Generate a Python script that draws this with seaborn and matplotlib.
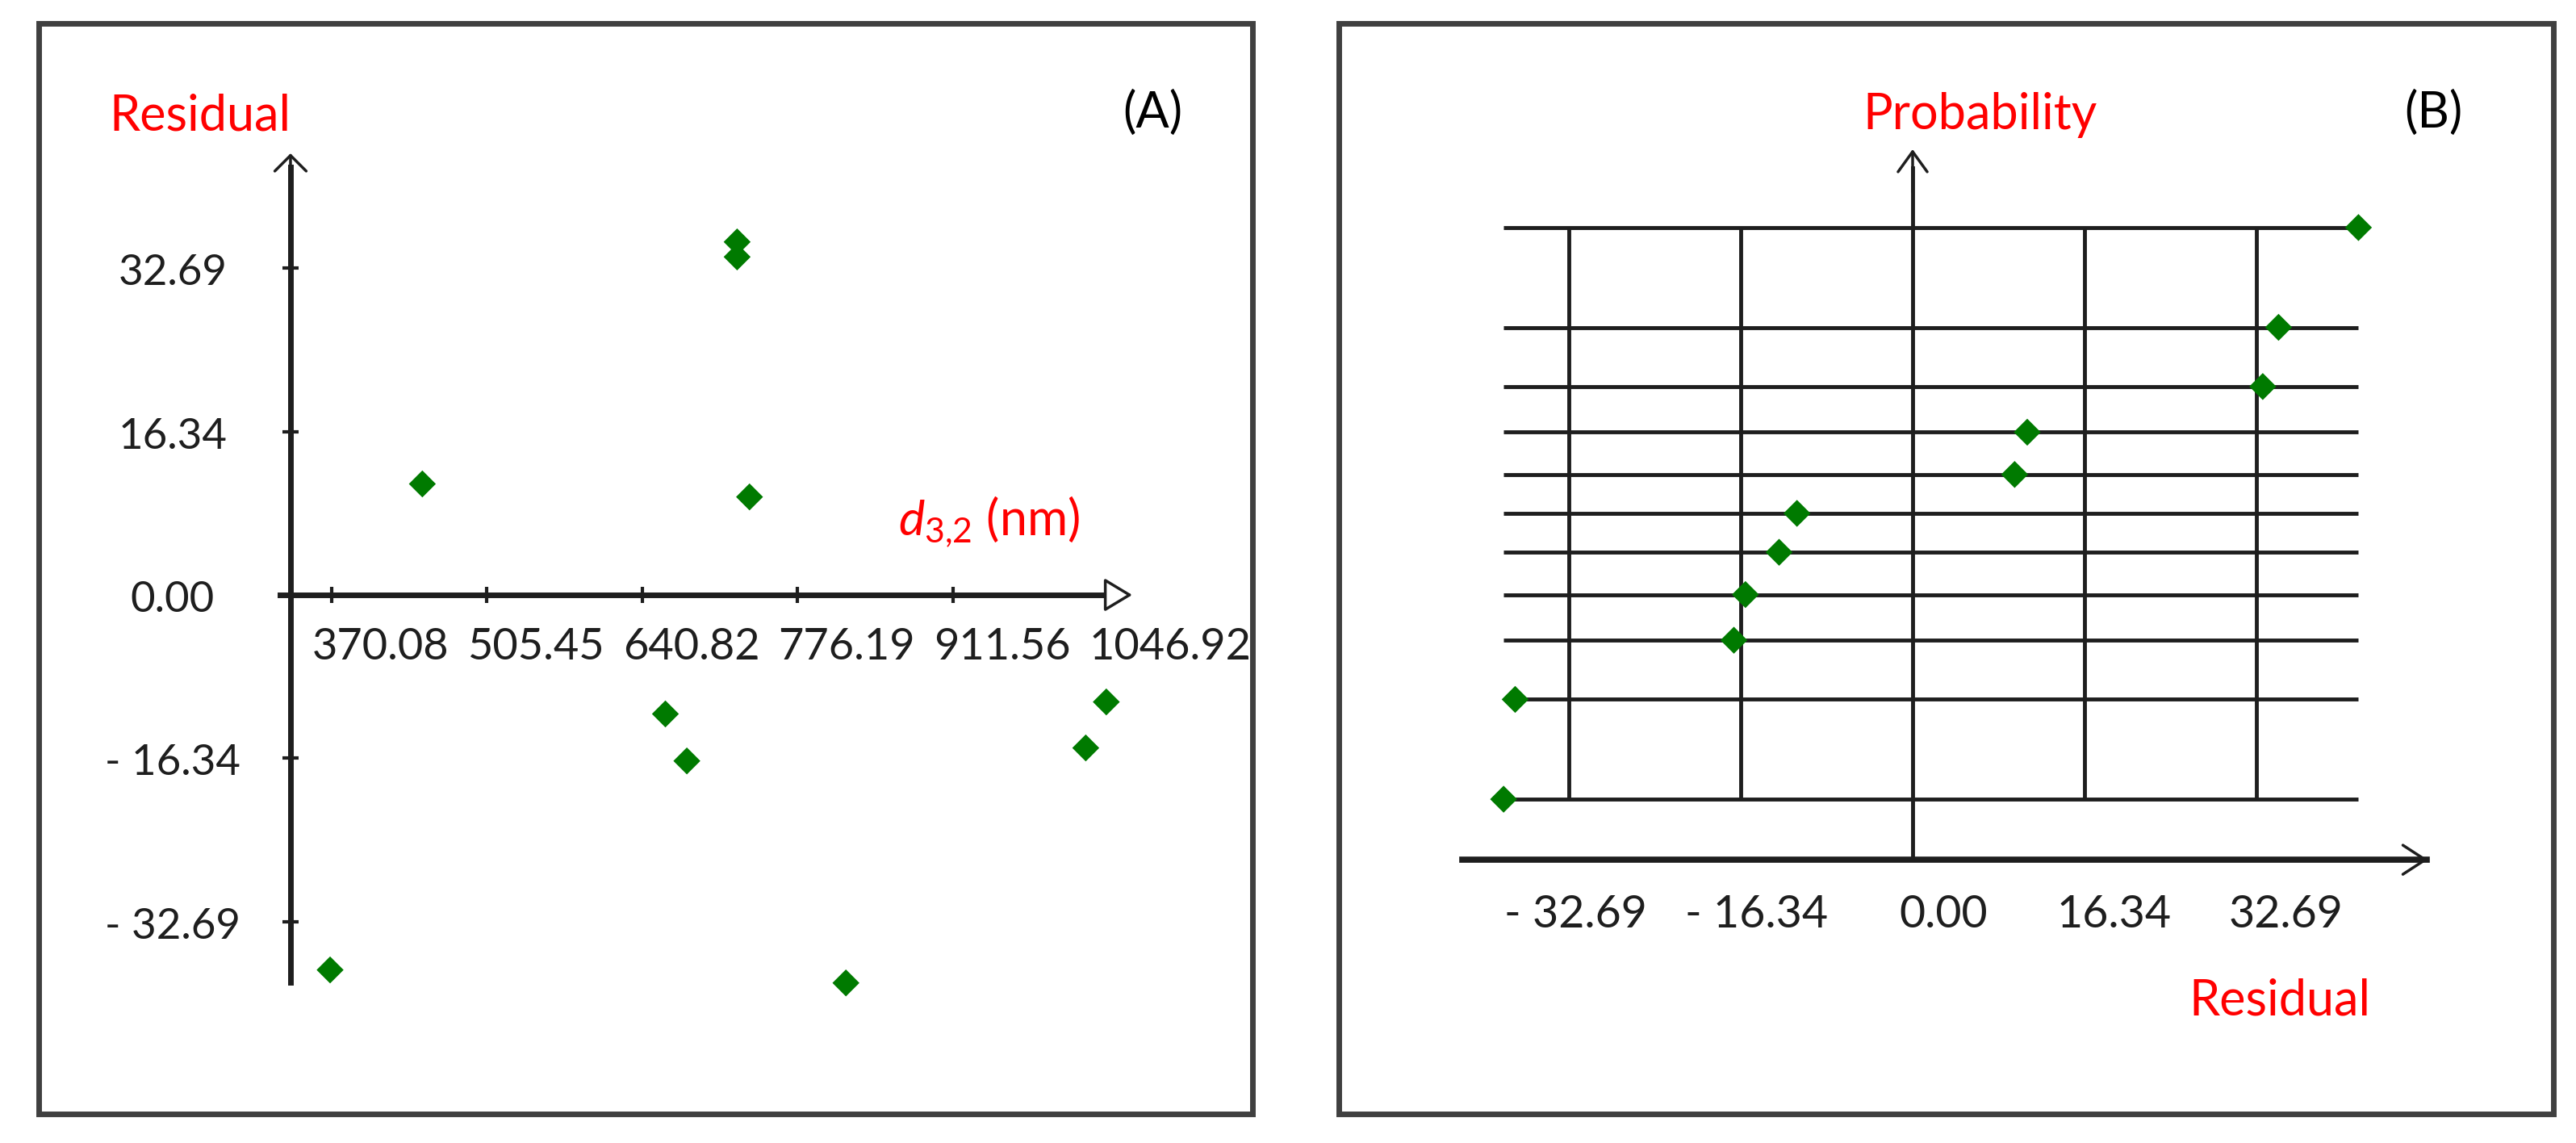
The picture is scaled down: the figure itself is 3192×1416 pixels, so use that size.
import matplotlib
matplotlib.use('Agg')
import matplotlib.pyplot as plt
import seaborn as sns
from matplotlib.transforms import ScaledTranslation
from matplotlib.patches import Rectangle

# ---------------- data ----------------
d32_nm = [368.7, 449.1, 723.4, 723.4, 734.2, 660.9, 679.6, 818.2, 1027.2, 1045.1]
residual_a = [-37.5, 11.1, 35.3, 33.8, 9.8, -11.9, -16.6, -38.8, -15.3, -10.7]

residual_b = [-38.9, -37.8, -17.0, -15.9, -12.7, -11.0, 9.7, 10.9, 33.3, 34.8, 42.4]
probability_b = [-1.69, -1.10, -0.75, -0.48, -0.23, 0.00, 0.23, 0.48, 0.75, 1.10, 1.69]

a_xticks = [370.08, 505.45, 640.82, 776.19, 911.56, 1046.92]
a_xticklabels = ['370.08', '505.45', '640.82', '776.19', '911.56', '1046.92']
a_yticks = [32.69, 16.34, 0.00, -16.34, -32.69]
a_yticklabels = ['32.69', '16.34', '0.00', '- 16.34', '- 32.69']
b_xticks = [-32.69, -16.34, 0.00, 16.34, 32.69]
b_xticklabels = ['- 32.69', '- 16.34', '0.00', '16.34', '32.69']

# ---------------- style ----------------
W, H, DPI = 3192, 1416, 100
sns.set_style('white')
plt.rcParams['font.family'] = ['Lato', 'DejaVu Sans']
plt.rcParams['mathtext.fontset'] = 'custom'
plt.rcParams['mathtext.it'] = 'Lato:italic'
plt.rcParams['mathtext.rm'] = 'Lato'

INK = '#1e1e1e'
FRAME = '#404040'
GREEN = '#007a00'
RED = '#ff0000'

fig = plt.figure(figsize=(W / DPI, H / DPI), dpi=DPI)
fig.patch.set_facecolor('white')


def fx(px):
    return px / W


def fy(py):
    return 1 - py / H


def off(ax, dx, dy):
    return ax.transData + ScaledTranslation(dx / DPI, -dy / DPI, fig.dpi_scale_trans)


def frame(l, t, r, b):
    fig.add_artist(Rectangle((fx(l), fy(b)), (r - l) / W, (b - t) / H,
                             transform=fig.transFigure, fill=False,
                             lw=5, ec=FRAME, zorder=0))


# ================= Panel A =================
A_L, A_T, A_R, A_B = 48, 29, 1552, 1380
frame(A_L, A_T, A_R, A_B)
axA = fig.add_axes([fx(A_L), fy(A_B), (A_R - A_L) / W, (A_B - A_T) / H])
axA.patch.set_alpha(0)
axA.set_xlim(114.8, 1172.5)
axA.set_ylim(-51.9, 57.15)
for s in ['top', 'right']:
    axA.spines[s].set_visible(False)
y_axis_x = 334.2
axA.spines['left'].set_position(('data', y_axis_x))
axA.spines['bottom'].set_position(('data', 0))
axA.spines['left'].set_bounds(-38.74, 42.78)
axA.spines['bottom'].set_bounds(325.1, 1046.92)
for s in ['left', 'bottom']:
    axA.spines[s].set_linewidth(5)
    axA.spines[s].set_color(INK)
axA.set_xticks(a_xticks)
axA.set_yticks(a_yticks)
axA.tick_params(axis='both', which='both', direction='inout', length=14.4,
                width=3, color=INK, bottom=True, left=True,
                labelbottom=False, labelleft=False)

sns.scatterplot(x=d32_nm, y=residual_a, ax=axA, marker='D', s=290,
                color=GREEN, edgecolor='none', linewidth=0, legend=False,
                zorder=5, clip_on=False)

# axis arrowheads
axA.annotate('', xy=(y_axis_x, 44.15), xytext=(y_axis_x, 41.0),
             arrowprops=dict(arrowstyle='->, head_length=0.7, head_width=0.7',
                             lw=2.5, color=INK, mutation_scale=20,
                             shrinkA=0, shrinkB=0))
axA.annotate('', xy=(1067.7, 0), xytext=(1040, 0),
             arrowprops=dict(arrowstyle='-|>, head_length=1.08, head_width=0.65',
                             lw=2.5, ec=INK, fc='white', mutation_scale=20,
                             shrinkA=0, shrinkB=0))

for v, lab in zip(a_xticks, a_xticklabels):
    axA.text(v, 0, lab, transform=off(axA, -24, 80), ha='left', va='baseline',
             fontsize=39, color=INK)
for v, lab in zip(a_yticks, a_yticklabels):
    axA.text(y_axis_x, v, lab, transform=off(axA, 214 - 360, 21), ha='center',
             va='baseline', fontsize=38, color=INK)

fig.text(fx(248), fy(162), 'Residual', color=RED, fontsize=44,
         ha='center', va='baseline')
fig.text(fx(1428), fy(140), '(A)', color='black', fontsize=44,
         ha='center', va='center')
fig.text(fx(1113), fy(663), r'$d_{3{,}2}$ (nm)', color=RED, fontsize=44,
         ha='left', va='baseline')

# ================= Panel B =================
B_L, B_T, B_R, B_B = 1659, 29, 3164, 1380
frame(B_L, B_T, B_R, B_B)
axB = fig.add_axes([fx(B_L), fy(B_B), (B_R - B_L) / W, (B_B - B_T) / H])
axB.patch.set_alpha(0)
axB.set_xlim(-54.57, 60.94)
axB.set_ylim(-3.551, 2.897)
for s in ['top', 'right']:
    axB.spines[s].set_visible(False)
x_axis_y = -2.048
axB.spines['left'].set_position(('data', 0))
axB.spines['bottom'].set_position(('data', x_axis_y))
axB.spines['left'].set_bounds(x_axis_y, 2.043)
axB.spines['bottom'].set_bounds(-42.8, 48.9)
axB.spines['left'].set_linewidth(3.5)
axB.spines['bottom'].set_linewidth(5.5)
for s in ['left', 'bottom']:
    axB.spines[s].set_color(INK)
axB.set_xticks([])
axB.set_yticks([])

# probability grid
axB.vlines([t for t in b_xticks if t != 0], min(probability_b), max(probability_b),
           colors=INK, lw=3.5, zorder=2)
axB.hlines(probability_b, min(residual_b), max(residual_b),
           colors=INK, lw=3.5, zorder=2)

sns.scatterplot(x=residual_b, y=probability_b, ax=axB, marker='D', s=290,
                color=GREEN, edgecolor='none', linewidth=0, legend=False,
                zorder=5, clip_on=False)

axB.annotate('', xy=(0, 2.153), xytext=(0, 1.9),
             arrowprops=dict(arrowstyle='->, head_length=0.9, head_width=0.65',
                             lw=2.5, color=INK, mutation_scale=20,
                             shrinkA=0, shrinkB=0))
axB.annotate('', xy=(49.0, x_axis_y), xytext=(44.0, x_axis_y),
             arrowprops=dict(arrowstyle='->, head_length=1.0, head_width=0.65',
                             lw=2.5, color=INK, mutation_scale=20,
                             shrinkA=0, shrinkB=0))

b_label_dx = [8, 19, 38, 37, 37]
for v, lab, dx in zip(b_xticks, b_xticklabels, b_label_dx):
    axB.text(v, x_axis_y, lab, transform=off(axB, dx, 84), ha='center',
             va='baseline', fontsize=40, color=INK)

fig.text(fx(2453), fy(160), 'Probability', color=RED, fontsize=44,
         ha='center', va='baseline')
fig.text(fx(3015), fy(140), '(B)', color='black', fontsize=44,
         ha='center', va='center')
fig.text(fx(2825), fy(1257), 'Residual', color=RED, fontsize=44,
         ha='center', va='baseline')

fig.savefig('out.png', dpi=DPI, facecolor='white')
